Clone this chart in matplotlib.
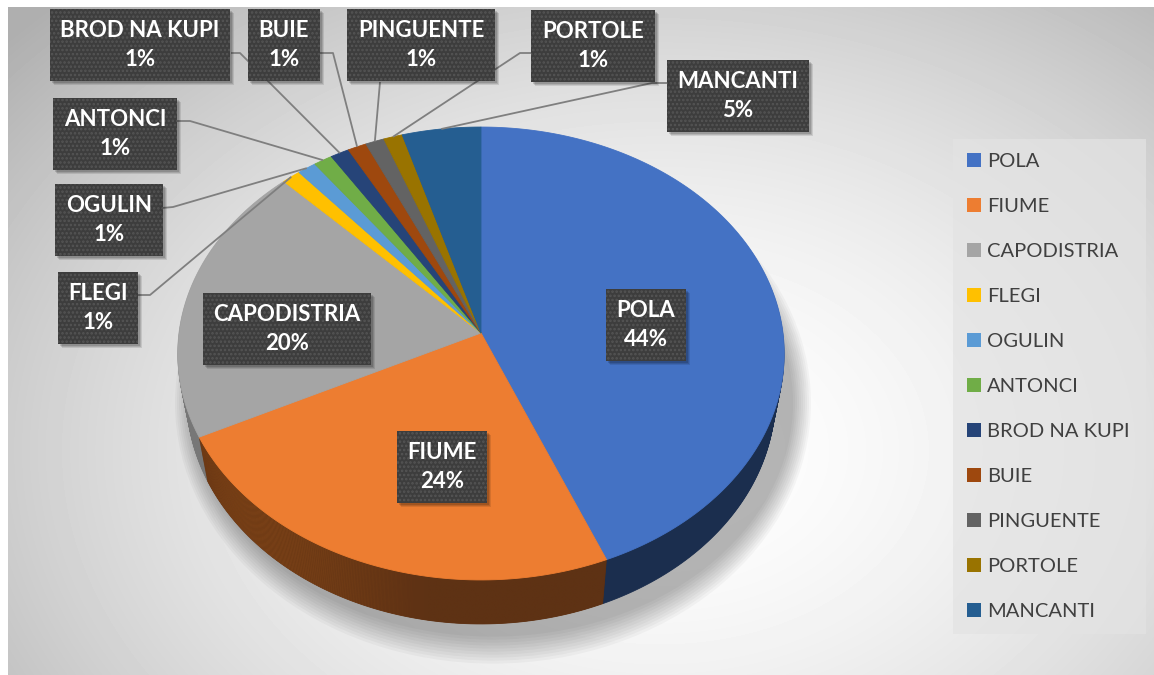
import numpy as np
import matplotlib
matplotlib.use('Agg')
import matplotlib.pyplot as plt
import matplotlib.transforms as mtransforms
from matplotlib.path import Path
from matplotlib.patches import Ellipse, Rectangle
from matplotlib.colors import to_rgb

# ---------------- data ----------------
categories = ['POLA', 'FIUME', 'CAPODISTRIA', 'FLEGI', 'OGULIN', 'ANTONCI',
              'BROD NA KUPI', 'BUIE', 'PINGUENTE', 'PORTOLE', 'MANCANTI']
values = [44.0, 24.0, 20.2, 1.1, 1.1, 1.1, 1.1, 1.1, 1.1, 1.1, 4.6]
colors = ['#4472C4', '#ED7D31', '#A5A5A5', '#FFC000', '#5B9BD5', '#70AD47',
          '#264478', '#9E480E', '#636363', '#997300', '#255E91']

# ---------------- layout (pixels, y down) ----------------
W, H = 1154, 675
CX, CY, A, B, PA = 481, 333, 302, 224.6, 0.0905
DEPTH = 44
BOTTOM_SHRINK = 0.03

label_centers = {
    'POLA': (646, 325), 'FIUME': (442, 467), 'CAPODISTRIA': (287, 329),
    'FLEGI': (98, 308), 'OGULIN': (109, 220), 'ANTONCI': (115, 134),
    'BROD NA KUPI': (140, 45), 'BUIE': (284, 45), 'PINGUENTE': (421, 45),
    'PORTOLE': (593, 46), 'MANCANTI': (738, 96),
}
leader_starts = {
    'FLEGI': [(137, 295), (150, 295)],
    'OGULIN': [(162, 208), (173, 207)],
    'ANTONCI': [(176, 121), (190, 121)],
    'BROD NA KUPI': [(231, 53), (240, 53)],
    'BUIE': [(319, 53), (333, 53)],
    'PINGUENTE': [(380, 82)],
    'PORTOLE': [(533, 53), (520, 53)],
    'MANCANTI': [(668, 83), (652, 83)],
}

plt.rcParams['font.family'] = ['Lato', 'DejaVu Sans']
plt.rcParams['hatch.linewidth'] = 1.2
fig = plt.figure(figsize=(W / 100, H / 100), dpi=100)
fig.patch.set_facecolor('white')

# ---------------- background ----------------
bg = fig.add_axes([0, 0, 1, 1])
bg.axis('off')
yy, xx = np.mgrid[7:H, 8:W]
rr = np.sqrt(((xx - 660) / 720.0) ** 2 + ((yy - 450) / 520.0) ** 2)
g = 1 - 0.23 * np.clip(rr, 0, 1.2) ** 1.7
bg.imshow(g, cmap='gray', vmin=0, vmax=1, extent=(8, W, H, 7),
          aspect='auto', interpolation='bilinear', zorder=0)
for i in range(10):
    e = Ellipse((CX + 12, CY + 70), 2 * (A + 16 - 2 * i), 2 * (B + 36 - 3 * i),
                facecolor='black', alpha=0.03, edgecolor='none', zorder=1)
    bg.add_patch(e)
bg.set_xlim(0, W)
bg.set_ylim(H, 0)


# ---------------- perspective transform ----------------
def flatten(path, n=40):
    pts, codes = [], []
    for bez, code in path.iter_bezier():
        cp = bez.control_points
        if code == Path.MOVETO:
            pts.append(cp[0]); codes.append(Path.MOVETO)
        elif code in (Path.CURVE3, Path.CURVE4):
            t = np.linspace(0, 1, n)[1:]
            p = bez(t)
            pts.extend(p); codes.extend([Path.LINETO] * len(p))
        else:
            pts.append(cp[-1]); codes.append(Path.LINETO)
    pts.append(pts[0]); codes.append(Path.CLOSEPOLY)
    return Path(np.array(pts), codes)


class Persp(mtransforms.Transform):
    input_dims = 2
    output_dims = 2
    is_separable = False
    has_inverse = False

    def __init__(self, sx=1.0, dy=0.0):
        super().__init__()
        self.sx = sx
        self.dy = dy

    def transform_non_affine(self, values):
        values = np.asarray(values, dtype=float)
        u = values[:, 0]
        v = values[:, 1]
        den = 1 + PA * v
        return np.column_stack([CX + self.sx * A * u / den,
                                CY + self.dy - B * v / den])

    def transform_path_non_affine(self, path):
        p = flatten(path)
        return Path(self.transform_non_affine(p.vertices), p.codes)


ax = fig.add_axes([0, 0, 1, 1])
ax.patch.set_alpha(0)
ax.set_zorder(2)


def dark(c, f):
    r, g_, b = to_rgb(c)
    return (r * f, g_ * f, b * f)


side_cols = [dark(c, 0.40) for c in colors]
side_cols[1] = dark(colors[1], 0.40)
side_cols[2] = dark(colors[2], 0.72)

# horizontal shading for the orange side
gx = np.linspace(0, 1, 256)
c_light = np.array(to_rgb('#B0601F'))
c_dark = np.array(to_rgb('#5E3214'))
ff = np.clip((gx - 0.0) / 0.55, 0, 1)[:, None]
grad = (c_light * (1 - ff) + c_dark * ff)[None, :, :].repeat(2, axis=0)

for d in range(DEPTH, 0, -1):
    ws, _ = ax.pie(values, colors=side_cols, startangle=90, counterclock=False,
                   radius=1, center=(0, 0))
    tr = Persp(1 - BOTTOM_SHRINK * d / DEPTH, d) + ax.transData
    z = 1 + (DEPTH - d) * 0.001
    for w, c in zip(ws, side_cols):
        w.set_transform(tr)
        w.set_edgecolor(c)
        w.set_linewidth(0.6)
        w.set_zorder(z)
    im = ax.imshow(grad, extent=(190, 620, 640, 420), aspect='auto',
                   interpolation='bilinear', zorder=z + 0.0005)
    im.set_clip_path(ws[1])

persp = Persp()
wedges, _ = ax.pie(values, colors=colors, startangle=90, counterclock=False,
                   radius=1, center=(0, 0))
for w, c in zip(wedges, colors):
    w.set_transform(persp + ax.transData)
    w.set_edgecolor(c)
    w.set_linewidth(0.6)
    w.set_zorder(2)

ax.set_aspect('auto')
ax.set_xlim(0, W)
ax.set_ylim(H, 0)
ax.axis('off')

total = sum(values)
box_style = dict(boxstyle='square,pad=0.48', facecolor='#3d3d3d',
                 edgecolor='#555555', linewidth=0, hatch='....')

texts = []
for w, name, val in zip(wedges, categories, values):
    pct = round(val / total * 100)
    txt = f'{name}\n{pct}%'
    lx, ly = label_centers[name]
    if name in leader_starts:
        tm = np.deg2rad((w.theta1 + w.theta2) / 2)
        anchor = persp.transform(np.array([[np.cos(tm), np.sin(tm)]]))[0]
        pts = leader_starts[name] + [tuple(anchor)]
        ax.plot([p[0] for p in pts], [p[1] for p in pts], color='#7f7f7f',
                lw=1.3, zorder=3, solid_capstyle='butt')
    t = ax.text(lx, ly, txt, ha='center', va='center', fontsize=16,
                fontweight='bold', color='white', linespacing=1.5,
                bbox=box_style, zorder=5)
    texts.append(t)

# ---------------- legend ----------------
leg = ax.legend(wedges, categories, loc='upper left',
                bbox_to_anchor=(953 / W, 1 - 139 / H, 193 / W, 0),
                bbox_transform=fig.transFigure, mode='expand',
                fontsize=14.5, labelcolor='#404040', frameon=True,
                fancybox=False, facecolor='#e3e3e3', edgecolor='none',
                framealpha=0.7, handlelength=0.7, handleheight=0.7,
                handletextpad=0.3, labelspacing=1.385, borderpad=0.7,
                borderaxespad=0)
leg.set_zorder(6)
for h in leg.legend_handles:
    h.set_linewidth(0)

# drop shadows behind the label boxes
fig.canvas.draw()
for t in texts:
    bb = t.get_bbox_patch().get_window_extent()
    for k, a in ((4, 0.10), (3, 0.12), (2, 0.14)):
        ax.add_patch(Rectangle((bb.x0 + k, bb.y0 - k), bb.width, bb.height,
                               transform=None, facecolor='black', alpha=a,
                               edgecolor='none', zorder=4))

fig.savefig('out.png', dpi=100, facecolor='white')
